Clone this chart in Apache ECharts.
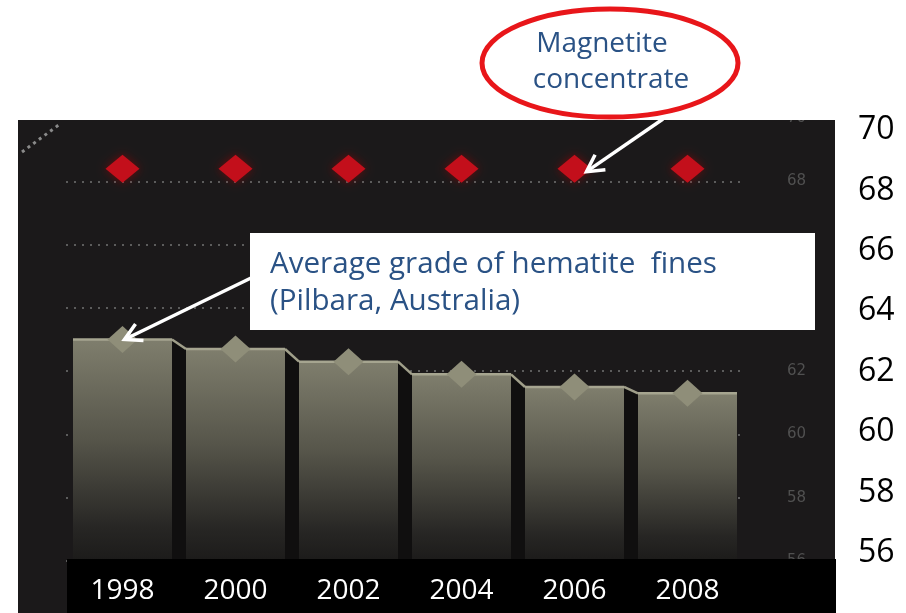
<!DOCTYPE html>
<html><head><meta charset="utf-8">
<script src="https://cdn.jsdelivr.net/npm/echarts@6/dist/echarts.min.js"></script>
<style>html,body{margin:0;padding:0;background:#fff}#c{width:906px;height:613px}</style>
</head><body><div id="c"></div>
<script>
// ---- data ----
const years = ['1998', '2000', '2002', '2004', '2006', '2008'];
const hematite = [63.0, 62.7, 62.3, 61.9, 61.5, 61.3];
const magnetite = [68.4, 68.4, 68.4, 68.4, 68.4, 68.4];
const yMin = 56, yMax = 70, yStep = 2;
const hematiteLabel = ['Average grade of hematite  fines', '(Pilbara, Australia)'];
const magnetiteLabel = ['Magnetite', 'concentrate'];

const FONT = '"Open Sans", "Noto Sans", sans-serif';
const chart = echarts.init(document.getElementById('c'), null, {renderer: 'canvas'});

function renderBar(params, api) {
  const i = params.dataIndex;
  const v = api.value(1);
  const top = api.coord([i, v]);
  const base = api.coord([i, yMin]);
  const bw = api.size([1, 0])[0] * 0.876;
  const x0 = top[0] - bw / 2, x1 = top[0] + bw / 2;
  const children = [];
  if (i < hematite.length - 1) {
    const nt = api.coord([i + 1, hematite[i + 1]]);
    const nx0 = nt[0] - bw / 2;
    children.push({
      type: 'polygon',
      shape: {points: [[x1, top[1]], [nx0, nt[1]], [nx0, base[1]], [x1, base[1]]]},
      style: {fill: '#100f0f'}
    });
    children.push({
      type: 'polyline',
      shape: {points: [[x1, top[1]], [nx0, nt[1]]]},
      style: {stroke: '#a09f8a', lineWidth: 2.5, fill: null}
    });
  }
  children.push({
    type: 'rect',
    shape: {x: x0, y: top[1], width: bw, height: base[1] - top[1]},
    style: {
      fill: new echarts.graphic.LinearGradient(0, 0, 0, 1, [
        {offset: 0, color: '#7f7e6d'},
        {offset: 0.45, color: '#56554a'},
        {offset: 0.85, color: '#272624'},
        {offset: 1, color: '#1c1b1a'}
      ])
    }
  });
  children.push({
    type: 'line',
    shape: {x1: x0, y1: top[1], x2: x1, y2: top[1]},
    style: {stroke: '#a6a590', lineWidth: 2.5}
  });
  return {type: 'group', children};
}

chart.setOption({
  backgroundColor: '#ffffff',
  animation: false,
  grid: [
    {left: 66, right: 162, top: 118, bottom: 52},
    {left: 66, right: 70, top: 130, bottom: 60}
  ],
  xAxis: [
    {type: 'category', gridIndex: 0, data: years, z: 10,
     axisLine: {show: false}, axisTick: {show: false},
     axisLabel: {color: '#ffffff', fontSize: 28, fontFamily: FONT, margin: 16}},
    {type: 'category', gridIndex: 1, data: years, show: false}
  ],
  yAxis: [
    {type: 'value', gridIndex: 0, position: 'right', min: yMin, max: yMax, interval: yStep,
     axisLine: {show: false}, axisTick: {show: false},
     axisLabel: {color: '#505050', fontSize: 15, fontFamily: 'DejaVu Sans', margin: 43},
     splitLine: {show: true, lineStyle: {color: '#5c5c5c', width: 2, type: [2, 6]}}},
    {type: 'value', gridIndex: 1, position: 'right', min: yMin, max: yMax, interval: yStep, z: 10,
     axisLine: {show: false}, axisTick: {show: false}, splitLine: {show: false},
     axisLabel: {color: '#000000', fontSize: 32, fontFamily: FONT, margin: 22}}
  ],
  series: [
    {type: 'custom', name: 'Hematite bars', xAxisIndex: 0, yAxisIndex: 0, z: 2,
     renderItem: renderBar,
     data: years.map((y, i) => [i, hematite[i]])},
    {type: 'scatter', name: 'Hematite', xAxisIndex: 0, yAxisIndex: 0, z: 3,
     symbol: 'diamond', symbolSize: [30, 27],
     itemStyle: {color: '#8f8e79', opacity: 1},
     data: years.map((y, i) => [i, hematite[i]])},
    {type: 'scatter', name: 'Magnetite', xAxisIndex: 0, yAxisIndex: 0, z: 3,
     symbol: 'diamond', symbolSize: [34, 28],
     itemStyle: {color: '#c30f1b', opacity: 1, shadowBlur: 10, shadowColor: 'rgba(170,0,0,0.55)'},
     data: years.map((y, i) => [i, magnetite[i]])}
  ]
});

function arrow(x1, y1, x2, y2) {
  const a = Math.atan2(y2 - y1, x2 - x1), L = 19, s = 0.5;
  const p1 = [x2 - L * Math.cos(a - s), y2 - L * Math.sin(a - s)];
  const p2 = [x2 - L * Math.cos(a + s), y2 - L * Math.sin(a + s)];
  return {type: 'group', z: 8, children: [
    {type: 'line', shape: {x1, y1, x2, y2}, style: {stroke: '#ffffff', lineWidth: 3.5}, z: 8},
    {type: 'polyline', shape: {points: [p1, [x2, y2], p2]}, style: {stroke: '#ffffff', lineWidth: 3.5, fill: null}, z: 8}
  ]};
}

const tipH = chart.convertToPixel({gridIndex: 0}, [0, hematite[0]]);
const tipM = chart.convertToPixel({gridIndex: 0}, [4, magnetite[4]]);

chart.setOption({
  graphic: [
    {type: 'rect', z: -1, shape: {x: 18, y: 120, width: 817, height: 493}, style: {fill: '#1b191a'}},
    {type: 'line', z: 1, shape: {x1: 22, y1: 152, x2: 60, y2: 124},
     style: {stroke: '#8a8a8a', lineWidth: 3, lineDash: [3, 4]}},
    {type: 'rect', z: 5, shape: {x: 67, y: 559, width: 769, height: 54}, style: {fill: '#000000'}},
    {type: 'rect', z: 5, shape: {x: 0, y: 0, width: 906, height: 120}, style: {fill: '#ffffff'}},
    {type: 'rect', z: 6, shape: {x: 250, y: 233, width: 565, height: 97}, style: {fill: '#ffffff'}},
    {type: 'text', z: 7, style: {text: hematiteLabel[0], x: 270, y: 265, fill: '#2a5285',
      font: '29.6px ' + FONT, verticalAlign: 'middle', align: 'left'}},
    {type: 'text', z: 7, style: {text: hematiteLabel[1], x: 270, y: 302, fill: '#2a5285',
      font: '29.6px ' + FONT, verticalAlign: 'middle', align: 'left'}},
    {type: 'ellipse', z: 6, shape: {cx: 610, cy: 63, rx: 128, ry: 54},
     style: {fill: '#ffffff', stroke: '#e8161a', lineWidth: 5}},
    {type: 'text', z: 7, style: {text: magnetiteLabel[0], x: 602, y: 44, fill: '#2a5285',
      font: '28px ' + FONT, verticalAlign: 'middle', align: 'center'}},
    {type: 'text', z: 7, style: {text: magnetiteLabel[1], x: 611, y: 80, fill: '#2a5285',
      font: '28px ' + FONT, verticalAlign: 'middle', align: 'center'}},
    arrow(251, 278, tipH[0] + 2, tipH[1]),
    arrow(663, 119, tipM[0] + 12, tipM[1] + 3)
  ]
});
</script></body></html>
